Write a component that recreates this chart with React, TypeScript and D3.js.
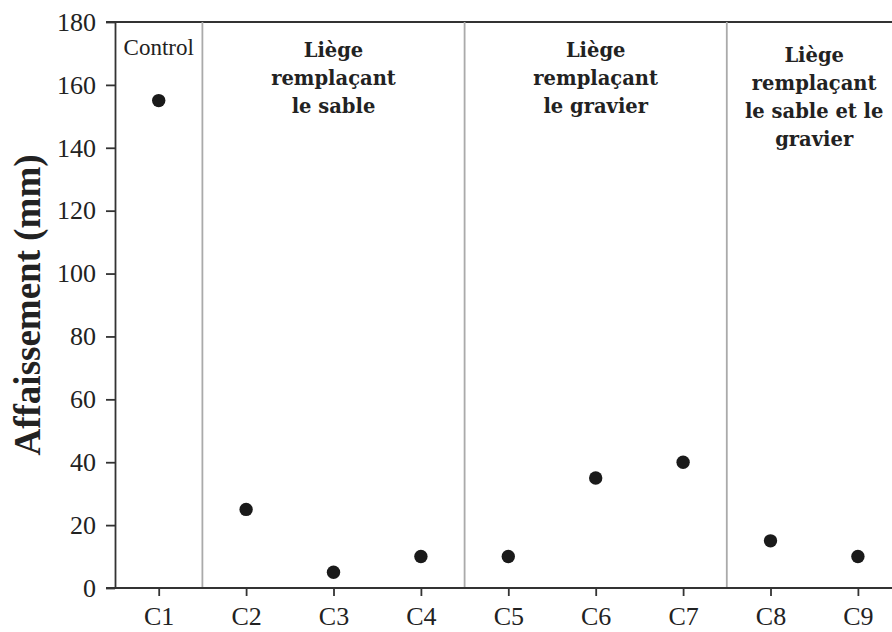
import React, { useEffect, useRef } from 'react';
import * as d3 from 'd3';

const categories = ['C1', 'C2', 'C3', 'C4', 'C5', 'C6', 'C7', 'C8', 'C9'];
const slumpValues = [155, 25, 5, 10, 10, 35, 40, 15, 10];
const yTicks = [0, 20, 40, 60, 80, 100, 120, 140, 160, 180];

// groups: first/last category index and the label lines
const groupStarts = [0, 1, 4, 7];
const groupEnds = [0, 3, 6, 8];
const groupLabels = [
  ['Control'],
  ['Liège', 'remplaçant', 'le sable'],
  ['Liège', 'remplaçant', 'le gravier'],
  ['Liège', 'remplaçant', 'le sable et le', 'gravier']
];

const width = 892;
const height = 632;

const App: React.FC = () => {
  const svgRef = useRef<SVGSVGElement>(null);

  useEffect(() => {
    const svg = d3.select(svgRef.current);
    svg.selectAll('*').remove();

    const margin = { top: 22, left: 115, bottom: 44 };
    const step = 87.4;
    const x0 = margin.left;
    const yBottom = height - margin.bottom;

    const xScale = d3.scalePoint<string>()
      .domain(categories)
      .range([x0 + step / 2, x0 + step * (categories.length - 0.5)]);

    const yScale = d3.scaleLinear()
      .domain([0, 180])
      .range([yBottom, margin.top]);

    const axisColor = '#333';
    const serif = '"Liberation Serif", "Times New Roman", serif';

    // top border
    svg.append('line')
      .attr('x1', x0 - 9).attr('x2', width)
      .attr('y1', yScale(180)).attr('y2', yScale(180))
      .attr('stroke', axisColor).attr('stroke-width', 1.8);

    // group dividers
    groupStarts.slice(1).forEach(i => {
      const xd = ((xScale(categories[i - 1]) as number) + (xScale(categories[i]) as number)) / 2;
      svg.append('line')
        .attr('x1', xd).attr('x2', xd)
        .attr('y1', yScale(180)).attr('y2', yBottom)
        .attr('stroke', '#aaa').attr('stroke-width', 1.8);
    });

    // Y axis
    const yAxis = svg.append('g')
      .attr('transform', `translate(${x0},0)`)
      .call(d3.axisLeft(yScale).tickValues(yTicks).tickSize(9).tickPadding(10).tickSizeOuter(0));
    yAxis.select('.domain').attr('stroke', axisColor).attr('stroke-width', 1.8);
    yAxis.selectAll('.tick line').attr('stroke', axisColor).attr('stroke-width', 1.8);
    yAxis.selectAll('.tick text')
      .attr('fill', '#222')
      .style('font-family', serif)
      .style('font-size', '26px');

    // X axis
    const xAxis = svg.append('g')
      .attr('transform', `translate(0,${yBottom})`)
      .call(d3.axisBottom(xScale).tickSize(8).tickPadding(11).tickSizeOuter(0));
    xAxis.select('.domain').attr('d', `M${x0 - 9},0H${width}`)
      .attr('stroke', axisColor).attr('stroke-width', 1.8);
    xAxis.selectAll('.tick line').attr('stroke', axisColor).attr('stroke-width', 1.8);
    xAxis.selectAll('.tick text')
      .attr('fill', '#222')
      .style('font-family', serif)
      .style('font-size', '26px');

    // group labels
    groupLabels.forEach((lines, gi) => {
      const cx = ((xScale(categories[groupStarts[gi]]) as number) + (xScale(categories[groupEnds[gi]]) as number)) / 2;
      const isControl = lines.length === 1;
      const top = isControl ? 55 : lines.length > 3 ? 62 : 57;
      const t = svg.append('text')
        .attr('text-anchor', 'middle')
        .attr('fill', '#222')
        .style('font-family', isControl ? serif : '"DejaVu Serif", serif')
        .style('font-weight', isControl ? 'normal' : 'bold')
        .style('font-size', isControl ? '23px' : '19.5px');
      lines.forEach((line, li) => {
        t.append('tspan')
          .attr('x', cx)
          .attr('y', top + li * 28)
          .text(line);
      });
    });

    // points
    svg.selectAll('.dot')
      .data(slumpValues)
      .enter().append('circle')
      .attr('class', 'dot')
      .attr('cx', (_, i) => xScale(categories[i]) as number)
      .attr('cy', d => yScale(d))
      .attr('r', 6.7)
      .attr('fill', '#1a1a1a');

    // Y axis title
    svg.append('text')
      .attr('transform', `translate(40,${(yScale(0) + yScale(180)) / 2}) rotate(-90)`)
      .attr('text-anchor', 'middle')
      .attr('fill', '#222')
      .style('font-family', serif)
      .style('font-weight', 'bold')
      .style('font-size', '37px')
      .text('Affaissement (mm)');
  }, []);

  return (
    <svg
      ref={svgRef}
      width={width}
      height={height}
      style={{ position: 'absolute', left: 0, top: 0, background: '#fff' }}
    />
  );
};

export default App;
